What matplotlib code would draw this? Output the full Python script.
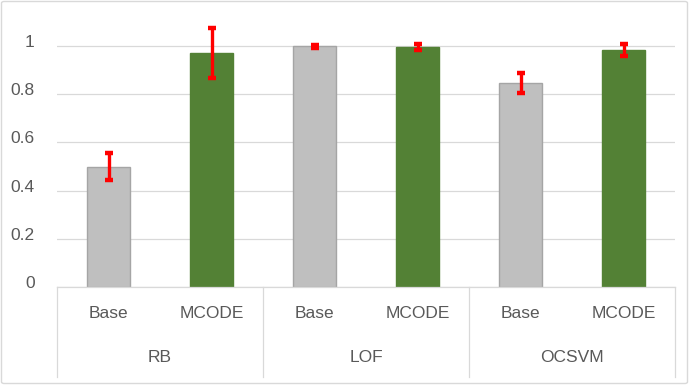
import numpy as np
import matplotlib
matplotlib.use("Agg")
import matplotlib.pyplot as plt
from matplotlib.transforms import blended_transform_factory, ScaledTranslation
from matplotlib.patches import FancyBboxPatch

plt.rcParams['font.family'] = ['Liberation Sans', 'DejaVu Sans']

# data
groups = ["RB", "LOF", "OCSVM"]
methods = ["Base", "MCODE"]
values = [0.498, 0.971, 0.998, 0.996, 0.845, 0.983]
errors = [0.056, 0.102, 0.006, 0.013, 0.041, 0.026]
yticks = [0, 0.2, 0.4, 0.6, 0.8, 1]
ytick_labels = ["0", "0.2", "0.4", "0.6", "0.8", "1"]

gray = "#BFBFBF"
green = "#538135"
text_col = "#595959"
line_col = "#D9D9D9"

W, H = 689, 385
fig = plt.figure(figsize=(W / 100, H / 100), dpi=100)

# axes placed in pixel terms of the original
x0, x1 = 57, 675
y_base, y_top = 287, 22
ax = fig.add_axes([x0 / W, 1 - y_base / H, (x1 - x0) / W, (y_base - y_top) / H])

n = len(values)
x = np.arange(n)
colors = [gray if i % 2 == 0 else green for i in range(n)]
edges = ["#A5A5A5" if i % 2 == 0 else green for i in range(n)]

ax.bar(x, values, width=0.41, color=colors, edgecolor=edges, linewidth=1.0, zorder=2)
ax.errorbar(x, values, yerr=errors, fmt="none", ecolor="#FF0000",
            elinewidth=2.4, capsize=2.6, capthick=3.2, zorder=3)

ax.set_xlim(-0.5, n - 0.5)
ax.set_ylim(0, (y_base - y_top) / 241.0)
ax.set_yticks(yticks)
ax.set_yticklabels(ytick_labels, fontsize=12.5, color=text_col)
ax.tick_params(axis="y", length=0, pad=16)
# excel draws the value labels a few pixels above the gridlines
for lab in ax.get_yticklabels():
    lab.set_transform(lab.get_transform() + ScaledTranslation(0, 5 / 100, fig.dpi_scale_trans))
ax.set_xticks([])
ax.grid(axis="y", color=line_col, linewidth=0.9, zorder=0)
for s in ["top", "right", "left"]:
    ax.spines[s].set_visible(False)
ax.spines["bottom"].set_color(line_col)
ax.spines["bottom"].set_linewidth(0.9)

# two-level category axis
tr = blended_transform_factory(ax.transData, fig.transFigure)
y_lvl1 = 1 - 313 / H
y_lvl2 = 1 - 358 / H
y_sep = 1 - 377 / H
for i in range(n):
    ax.text(x[i], y_lvl1, methods[i % 2], transform=tr, ha="center", va="center",
            fontsize=12.5, color=text_col, clip_on=False)
for g, name in enumerate(groups):
    ax.text(2 * g + 0.5, y_lvl2, name, transform=tr, ha="center", va="center",
            fontsize=12.5, color=text_col, clip_on=False)
for sx in [-0.5, 1.5, 3.5, 5.5]:
    ax.plot([sx, sx], [1 - y_base / H, y_sep], transform=tr, color=line_col,
            linewidth=0.9, clip_on=False)

# chart border
border = FancyBboxPatch((1.5 / W, 1.5 / H), (W - 3) / W, (H - 3) / H,
                        boxstyle="round,pad=0,rounding_size=0.004",
                        transform=fig.transFigure, facecolor="none",
                        edgecolor="#D9D9D9", linewidth=1.0)
fig.patches.append(border)

fig.savefig("out.png", dpi=100)
